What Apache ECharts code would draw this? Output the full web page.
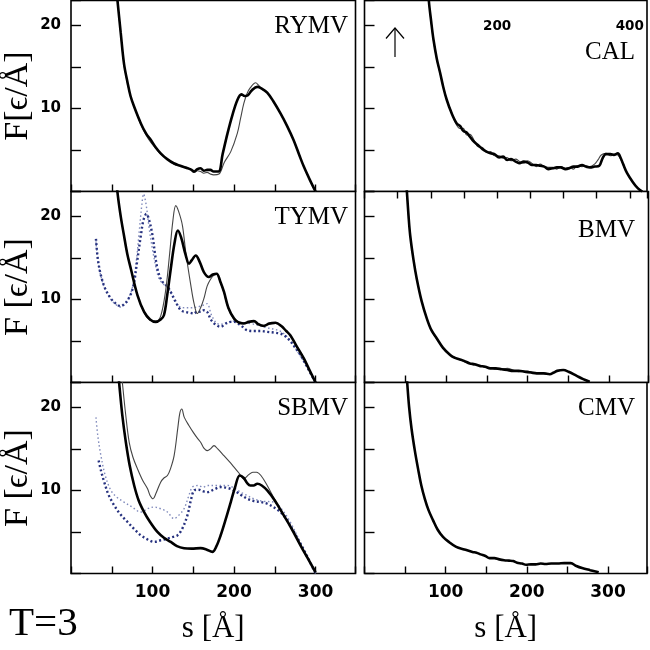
<!DOCTYPE html>
<html>
<head>
<meta charset="utf-8">
<script src="https://cdn.jsdelivr.net/npm/echarts@6/dist/echarts.min.js"></script>
<style>html,body{margin:0;padding:0;background:#fff}#c{width:650px;height:650px}</style>
</head>
<body>
<div id="c"></div>
<script>
// ---- data: [s (Å), F (ε/Å)] ----
const panelNames = ['RYMV', 'TYMV', 'SBMV', 'CAL', 'BMV', 'CMV'];
const yTickLabels = [10, 20];
const xTickLabels = [100, 200, 300];
const calTopTickLabels = [200, 400];

const rymvThick = [[53,27],[57,23],[61,19.1],[65,15.4],[69.4,13.1],[73,11.5],[77.5,10.2],[85.7,8.2],[92,7.0],[98,6.2],[104,5.3],[110,4.6],[118,3.9],[126,3.4],[134,3.1],[143,2.8],[148,2.6],[151,2.4],[155,2.7],[159,2.8],[163,2.5],[167,2.6],[171,2.6],[175,2.4],[181,2.4],[186,4.5],[192,7.0],[198,9.2],[204,11.0],[209,11.7],[213,11.5],[217,11.6],[222,12.2],[228.5,12.6],[234,12.4],[240.7,11.9],[248,10.9],[257,9.4],[265,7.9],[273,6.2],[280,4.4],[285.6,3.0],[293,1.4],[300,0]];
const rymvThin = [[53,27],[57,23],[61,19.0],[65,15.3],[69.4,13.0],[73,11.5],[77.5,10.2],[85.7,8.1],[92,6.8],[98,5.9],[104,5.2],[110,4.5],[118,3.9],[126,3.3],[134,3.0],[143,2.9],[148,2.5],[151,2.3],[155,2.5],[159,2.4],[163,2.2],[167,2.3],[171,2.1],[175,2.0],[181.5,2.1],[188,3.5],[196,4.8],[204,7.0],[208,8.8],[212,10.6],[216,11.8],[220,12.5],[226.5,13.1],[230,12.8],[234.6,12.3],[240.7,11.9],[248,10.9],[257,9.4],[265,7.9],[273,6.2],[280,4.4],[285.6,3.0],[293,1.4],[300,0]];

const tymvThick = [[53,27],[57,22.9],[61,20],[65,17.7],[69,15.5],[73.4,13.7],[81.6,10.5],[89.7,8.5],[97,7.6],[104,7.3],[110,7.6],[114,8.1],[118,10.5],[122.4,13.7],[127,16.8],[131,18.3],[135,17.5],[140.8,15.3],[144.8,14.3],[148,14.7],[153,15.3],[158,14.5],[163,13.3],[169,12.7],[174,13.0],[178.7,13.1],[183,12.2],[187.7,10.9],[193,9.0],[200,7.7],[206,7.2],[212,7.1],[218,7.3],[224.4,7.4],[230,7.0],[236.6,6.8],[243,7.1],[251,7.2],[258,6.8],[264,6.2],[269,5.7],[276,4.5],[285.6,2.9],[293,1.4],[300,0]];
const tymvThin = [[53,27],[57,22.9],[61,20],[65,17.7],[69,15.5],[73.4,13.7],[81.6,10.5],[89.7,8.4],[97,7.5],[104,7.4],[110,8.0],[116,11.0],[121,15.5],[125,19.5],[128.5,21.3],[132,20.6],[136.7,18.9],[141,15.5],[147,11.7],[151,9.5],[155,8.3],[159,9.0],[163,10.1],[167,11.6],[171,12.4],[175,12.9],[178.7,13.0],[183,12.1],[187.7,10.8],[193,8.9],[200,7.6],[206,7.3],[212,7.2],[218,7.2],[224.4,7.3],[230,7.1],[236.6,6.9],[243,7.0],[251,7.1],[258,6.8],[264,6.2],[269,5.7],[276,4.5],[285.6,2.9],[293,1.4],[300,0]];
const tymvDotBold = [[30.6,17.3],[33,14.8],[36.7,12.9],[42,11.3],[49,10.1],[55,9.5],[61,9.2],[66,9.5],[69.4,9.9],[74,10.8],[77.5,12.1],[81,14.5],[85.7,17.7],[89,19.6],[92.6,20.3],[96,19.5],[100,17.7],[103,15.5],[106,13.7],[110,12.5],[114,11.9],[118,11.6],[122.4,10.9],[128,9.8],[134.6,8.7],[140,8.5],[146,8.4],[151,8.3],[155,8.6],[159,8.5],[163,8.7],[167,8.5],[172,7.5],[177,7.0],[183.6,6.7],[190,7.1],[196,7.3],[200,7.3],[208,6.9],[216,6.3],[225,6.2],[233,6.2],[240.6,6.1],[250,6.0],[256,5.9],[261,5.7],[268,5.1],[275,4.2],[281.5,3.3],[290,1.8],[300,0]];
const tymvDotThin = [[30.6,17.0],[33,14.6],[36.7,12.8],[42,11.2],[49,10.0],[55,9.4],[61,9.1],[66,9.4],[70,10.0],[75.5,11.5],[80,14.5],[84,18.5],[87,21.5],[89,22.7],[92,21.5],[96,18.5],[100,16.0],[104,14.0],[108,12.5],[114,11.8],[120,11.3],[126,10.0],[132,9.2],[140,9.0],[148,9.0],[155,9.1],[162,9.3],[167,9.5],[172,8.2],[178,7.2],[183,7.0],[190,7.2],[200,7.4],[210,7.2],[220,7.1],[230,6.9],[240,6.6],[250,6.4],[258,6.1],[265,5.5],[272,4.6],[280,3.4],[290,1.8],[300,0]];

const sbmvThick = [[55,27],[59,23],[63,19],[67.3,15.8],[72,13],[77.5,10.6],[83,8.8],[89.7,7.4],[97,6.2],[106,5.0],[114,4.3],[122.4,3.8],[130,3.3],[138.7,3.05],[148,3.0],[159,3.05],[166,2.9],[173.4,2.6],[178,3.2],[183.6,4.6],[190,6.6],[196,8.6],[201,10.3],[207,11.8],[212,11.5],[216,10.9],[220,10.6],[224,10.6],[228.5,10.8],[234,10.6],[240.7,10.0],[250,8.8],[261,7.0],[270,5.5],[281.5,3.4],[290,1.9],[300,0.15]];
const sbmvThin = [[59,27],[63,23],[67,19.2],[71.4,15.8],[76,14],[81.6,12.6],[88,11.2],[93.9,10.2],[97,9.4],[100.7,9.0],[104,9.6],[110,11.0],[114,11.5],[118.3,11.8],[122,12.6],[126.5,14.2],[131,17.5],[133.5,19.3],[135.9,19.8],[139,18.8],[144.8,17.8],[150,17.0],[155,16.3],[159,15.8],[163,15.1],[167.3,14.8],[171,15.0],[175.4,15.4],[180,15.0],[187.6,14.2],[194,13.5],[200,12.8],[206,12.1],[212,11.4],[218,11.9],[223,12.2],[227.7,12.2],[233,11.8],[240.7,10.6],[250,8.9],[261,7.0],[270,5.5],[281.5,3.4],[290,1.9],[300,0.15]];
const sbmvDotBold = [[33.9,13.6],[37,12.3],[40.8,11.0],[46,9.5],[53,8.2],[60,7.2],[69.4,6.2],[78,5.3],[85.7,4.6],[94,4.1],[102,3.8],[110,4.0],[118.3,4.2],[125,4.4],[130.6,4.6],[136,5.3],[142.8,7.0],[147,8.8],[151,10.0],[156,10.1],[162,9.9],[167.3,9.8],[175,10.1],[183.6,10.4],[192,10.3],[200,10.0],[208,9.5],[216.3,9.0],[225,8.7],[233,8.6],[240.7,8.4],[250,7.9],[261,7.0],[270,5.6],[281.5,3.6],[290,2.0],[300,0]];
const sbmvDotThin = [[30.6,18.8],[33,16.5],[36.7,14.2],[42,11.8],[49,10.0],[56,9.2],[65,8.6],[75,8.0],[85.7,7.4],[94,7.8],[102,8.0],[110,7.8],[118.3,7.4],[126.5,6.6],[132,7.0],[138.7,7.8],[144,9.2],[149,10.4],[156,10.6],[162,10.4],[167.3,10.6],[180,10.6],[192,10.6],[200,10.3],[208,9.8],[216,9.4],[224,9.0],[236,8.7],[249,8.6],[258,7.8],[269,6.2],[280,4.0],[290,2.0],[300,0]];

// CAL is read on the top axis
const calThick = [[94,27],[97,23],[100.5,20.5],[104,18.3],[109,16.0],[114,14.3],[119,12.5],[124,11.05],[131,9.5],[139,8.2],[144,7.9],[149,7.3],[154,7.1],[159,6.6],[165,6.0],[171,5.6],[178,5.1],[184,4.8],[190,4.6],[196,4.5],[203,4.1],[209,4.2],[215,3.8],[221,3.9],[228,3.6],[234,3.4],[240,3.6],[246,3.5],[252,3.2],[259,3.2],[265,3.1],[271,3.0],[277,2.7],[284,2.8],[290,2.9],[296,2.9],[303,2.7],[309,2.8],[315,3.0],[321,3.0],[328,3.2],[334,3.0],[340,2.9],[347,3.0],[354,3.1],[359,4.0],[364,4.5],[371,4.5],[376,4.4],[382,4.6],[386,4.1],[390,3.3],[396,2.2],[404,1.2],[412,0.4],[419,0]];
const calThin = [[94,27],[97,23],[100.5,20.4],[104,18.2],[109,15.9],[114,14.2],[119,12.6],[124,11.0],[131,9.6],[137,8.3],[144,7.6],[149,7.6],[154,6.8],[159,6.9],[165,6.2],[171,5.4],[178,5.3],[184,4.7],[190,4.8],[196,4.3],[203,4.3],[209,4.0],[215,4.1],[221,3.7],[228,3.9],[234,3.6],[240,3.4],[246,3.7],[252,3.4],[259,3.0],[265,3.3],[271,3.0],[277,2.9],[284,2.9],[290,2.7],[296,3.0],[303,2.8],[309,2.9],[315,2.7],[321,3.1],[328,3.0],[334,3.1],[340,3.0],[347,3.3],[352,3.8],[357,4.4],[364,4.6],[371,4.3],[376,4.5],[382,4.4],[386,3.9],[390,3.2],[396,2.2],[404,1.2],[412,0.4],[419,0]];

const bmvThick = [[49,27],[52,22.9],[54,20],[56,17.7],[60,14.8],[64,12.5],[70,9.8],[76.4,7.7],[82,6.3],[88.6,5.3],[96,4.2],[105,3.3],[110,3.0],[116,2.8],[122,2.6],[129,2.3],[135,2.2],[141,2.0],[148,1.9],[154,1.7],[161,1.7],[168,1.6],[175,1.5],[182,1.4],[189,1.4],[196,1.3],[204,1.2],[211,1.1],[219,1.1],[227,1.0],[232,1.2],[236,1.4],[243.6,1.5],[250,1.3],[260,0.8],[268,0.4],[276,0.1]];
const bmvThin = [[49,27],[52,22.9],[54,20],[56,17.7],[60,14.8],[64,12.5],[70,9.8],[76.4,7.7],[82,6.3],[88.6,5.2],[96,4.2],[105,3.3],[110,3.1],[116,2.8],[122,2.5],[129,2.3],[135,2.1],[141,2.1],[148,1.8],[154,1.8],[161,1.6],[168,1.6],[175,1.7],[182,1.5],[189,1.3],[196,1.4],[204,1.3],[211,1.1],[219,1.2],[227,1.0],[232,1.2],[236,1.4],[243.6,1.5],[250,1.3],[260,0.8],[268,0.4],[276,0.1]];

const cmvThick = [[50,27],[52.6,23],[55,20],[58,17.4],[62,14.8],[66,12.6],[70,10.6],[74.3,9.0],[79,7.6],[84.5,6.4],[90,5.3],[96.7,4.4],[104,3.8],[113,3.2],[123,2.9],[133,2.6],[138,2.5],[143,2.3],[149,2.1],[154,1.85],[160,1.85],[166,1.7],[172,1.6],[178,1.55],[183,1.5],[188,1.3],[194,1.2],[199,1.05],[205,1.1],[211,1.1],[217,1.2],[223,1.15],[230,1.2],[238,1.2],[246,1.25],[254,1.25],[261,0.9],[268,0.65],[278,0.4],[288.5,0.15]];

// ---- chart ----
const SERIF = '"Liberation Serif","DejaVu Serif",serif';
const BOLD = '"DejaVu Sans",sans-serif';

const grids = [
  {left: 70.5, top: 0.5, width: 285, height: 191},
  {left: 70.5, top: 191.5, width: 285, height: 191},
  {left: 70.5, top: 382.5, width: 285, height: 191},
  {left: 364.5, top: 0.5, width: 284, height: 191},
  {left: 364.5, top: 191.5, width: 284, height: 191},
  {left: 364.5, top: 382.5, width: 284, height: 191}
].map(g => Object.assign({show: true, borderColor: '#000', borderWidth: 1.6, backgroundColor: '#fff'}, g));

function xAx(i, showLabels, isRight) {
  return {
    type: 'value', gridIndex: i, min: 0, max: isRight ? 348 : 349, interval: 50,
    axisLine: {show: false}, splitLine: {show: false},
    axisTick: {show: true, inside: true, length: 7, lineStyle: {color: '#000', width: 1.4}},
    axisLabel: {show: showLabels, margin: 11, color: '#000', fontFamily: BOLD, fontWeight: 'bold', fontSize: 17,
      formatter: v => xTickLabels.includes(v) ? String(v) : ''},
    name: showLabels ? 's [Å]' : '', nameLocation: 'middle', nameGap: 40,
    nameTextStyle: {fontFamily: SERIF, fontSize: 31, color: '#000'}
  };
}
const xAxes = [
  xAx(0, false, false), xAx(1, false, false), xAx(2, true, false),
  {
    type: 'value', gridIndex: 3, position: 'top', min: 0, max: 426, interval: 50,
    axisLine: {show: false}, splitLine: {show: false},
    axisTick: {show: true, inside: true, length: 7, lineStyle: {color: '#000', width: 1.4}},
    axisLabel: {show: true, inside: true, margin: 19, color: '#000', fontFamily: BOLD, fontWeight: 'bold', fontSize: 13.5,
      formatter: v => calTopTickLabels.includes(v) ? String(v) : ''}
  },
  xAx(4, false, true), xAx(5, true, true)
];

const yNames = ['F[ϵ/Å]', 'F [ϵ/Å]', 'F [ϵ/Å]', '', '', ''];
const yAxes = [0,1,2,3,4,5].map(i => ({
  type: 'value', gridIndex: i, min: 0, max: 23, interval: 5,
  axisLine: {show: false}, splitLine: {show: false},
  axisTick: {show: true, inside: true, length: 10, lineStyle: {color: '#000', width: 1.4}},
  axisLabel: {show: i < 3, margin: 10, color: '#000', fontFamily: BOLD, fontWeight: 'bold', fontSize: 15,
    formatter: v => yTickLabels.includes(v) ? String(v) : ''},
  name: yNames[i], nameLocation: 'middle', nameGap: 36, nameRotate: 90,
  nameTextStyle: {fontFamily: SERIF, fontSize: 34, color: '#000'}
}));

function line(data, idx, style) {
  return {
    type: 'line', data: data, xAxisIndex: idx, yAxisIndex: idx,
    showSymbol: false, smooth: 0.35, clip: true, silent: true,
    lineStyle: style, z: style.z || 2
  };
}
const THICK = {color: '#000', width: 2.6, z: 4};
const THIN = {color: '#444', width: 1.1, z: 3};
const DOTB = {color: '#26317f', width: 2.4, type: [2, 2.5], z: 2};
const DOTT = {color: '#7f89bb', width: 1.4, type: [1.5, 2.5], z: 2};

const series = [
  line(rymvThin, 0, THIN), line(rymvThick, 0, THICK),
  line(tymvDotThin, 1, DOTT), line(tymvDotBold, 1, DOTB), line(tymvThin, 1, THIN), line(tymvThick, 1, THICK),
  line(sbmvDotThin, 2, DOTT), line(sbmvDotBold, 2, DOTB), line(sbmvThin, 2, THIN), line(sbmvThick, 2, THICK),
  line(calThin, 3, THIN), line(calThick, 3, THICK),
  line(bmvThin, 4, THIN), line(bmvThick, 4, THICK),
  line(cmvThick, 5, THICK)
];

const labelPos = [[348, 26], [348, 217], [348, 408], [635, 52], [635, 230], [635, 408]];
const graphic = panelNames.map((n, i) => ({
  type: 'text', x: labelPos[i][0], y: labelPos[i][1], z: 10,
  style: {text: n, fill: '#000', font: '25px ' + SERIF, align: 'right', verticalAlign: 'middle'}
}));
graphic.push({type: 'text', x: 9, y: 624, z: 10,
  style: {text: 'T=3', fill: '#000', font: '41px ' + SERIF, align: 'left', verticalAlign: 'middle'}});
// upward arrow annotation in the CAL panel (points to the top s-axis)
graphic.push({type: 'group', z: 10, children: [
  {type: 'line', shape: {x1: 395, y1: 57, x2: 395, y2: 28}, style: {stroke: '#000', lineWidth: 1.2}},
  {type: 'polyline', shape: {points: [[386, 38.5], [395, 28], [404, 38.5]]}, style: {stroke: '#000', lineWidth: 1.2, fill: null}}
]});

const chart = echarts.init(document.getElementById('c'), null, {renderer: 'canvas'});
chart.setOption({
  animation: false,
  backgroundColor: '#fff',
  grid: grids, xAxis: xAxes, yAxis: yAxes, series: series, graphic: graphic
});
</script>
</body>
</html>
